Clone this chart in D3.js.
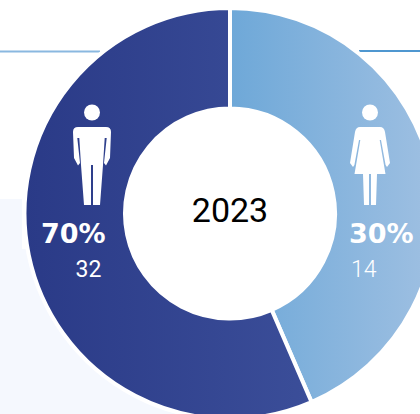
<!DOCTYPE html>
<meta charset="utf-8">
<style>
  html, body { margin: 0; padding: 0; background: #fff; }
  svg { display: block; }
</style>
<body>
<script src="https://d3js.org/d3.v7.min.js"></script>
<script>

// Slice sizes are what the ring actually shows, the printed 30/70 don't match it
var categories = ["Women", "Men"];
var arcShares = [43.5, 56.5];
var percents = ["30%", "70%"];
var counts = ["14", "32"];
var year = "2023";

var width = 420, height = 414;
var cx = 230, cy = 213.5;
var innerR = 107, outerR = 203.5;
var gap = 4;

var svg = d3.select("body").append("svg")
    .attr("width", width)
    .attr("height", height);

// Pale panel behind the ring, and the two header rules
svg.append("rect")
    .attr("x", 0).attr("y", 199)
    .attr("width", 230).attr("height", height - 199)
    .attr("fill", "#f5f8fe");
svg.append("rect")
    .attr("x", 22).attr("y", 199)
    .attr("width", 8).attr("height", 50)
    .attr("fill", "#fff");
svg.append("rect")
    .attr("x", 0).attr("y", 50.5)
    .attr("width", 100).attr("height", 2)
    .attr("fill", "#8ab8e0");
svg.append("rect")
    .attr("x", 359).attr("y", 50)
    .attr("width", 61).attr("height", 2)
    .attr("fill", "#4f97d0");

// Horizontal gradients, one per slice
var defs = svg.append("defs");
function addGradient(id, from, to) {
  var g = defs.append("linearGradient").attr("id", id);
  g.append("stop").attr("offset", "0%").attr("stop-color", from);
  g.append("stop").attr("offset", "100%").attr("stop-color", to);
}
addGradient("grad-women", "#6ea8d8", "#9fc0e2");
addGradient("grad-men", "#2a3a87", "#3b4e99");

var pie = d3.pie().sort(null);
// radii pushed out by half the stroke so the white stroke leaves the right edges
var arc = d3.arc().innerRadius(innerR - gap / 2).outerRadius(outerR + gap / 2);

var ring = svg.append("g")
    .attr("transform", "translate(" + cx + "," + cy + ")");

// hole has to hide the panel
ring.append("circle").attr("r", innerR).attr("fill", "#fff");

ring.selectAll("path")
    .data(pie(arcShares))
  .enter().append("path")
    .attr("d", arc)
    .attr("fill", function(d, i) { return i === 0 ? "url(#grad-women)" : "url(#grad-men)"; })
    .attr("stroke", "#fff")
    .attr("stroke-width", gap);

// Pictograms, origin is the middle of the shoulder line
var manBody = "M-14,0L14,0Q19,0 19,5L18,31L14,38.5L12,36L14.7,11L12.7,11L11,38L8,78L1,78L1,38L-1,38L-1,78L-8,78L-11,38L-12.7,11L-14.7,11L-12,36L-14,38.5L-18,31L-19,5Q-19,0 -14,0Z";
var womanBody = "M-10,0L10,0Q14,0 15,5L20,36L17,40L15.6,38L11,13L9.7,13L15.5,47L7,47L6,78L1,78L1,47L-1,47L-1,78L-6,78L-7,47L-15.5,47L-9.7,13L-11,13L-15.6,38L-17,40L-20,36L-15,5Q-14,0 -10,0Z";

function addFigure(x, y, body) {
  var g = svg.append("g").attr("transform", "translate(" + x + "," + y + ")");
  g.append("circle").attr("cy", -14.5).attr("r", 8).attr("fill", "#fff");
  g.append("path").attr("d", body).attr("fill", "#fff");
}
addFigure(92, 127, manBody);
addFigure(370, 127, womanBody);

// Labels
function addText(x, y, str, size, weight, family, color) {
  svg.append("text")
      .attr("x", x).attr("y", y)
      .attr("font-family", family)
      .attr("font-size", size)
      .attr("font-weight", weight)
      .attr("fill", color)
      .text(str);
}
addText(41, 243, percents[1], 27, 700, "'DejaVu Sans'", "#fff");
addText(75.5, 277, counts[1], 23, 400, "Roboto", "#fff");
addText(349, 243, percents[0], 27, 700, "'DejaVu Sans'", "#fff");
addText(351, 277, counts[0], 23, 300, "Roboto", "#fff");

svg.append("text")
    .attr("x", cx).attr("y", 222)
    .attr("text-anchor", "middle")
    .attr("font-family", "Roboto")
    .attr("font-size", 34)
    .attr("fill", "#000")
    .text(year);

</script>
</body>
